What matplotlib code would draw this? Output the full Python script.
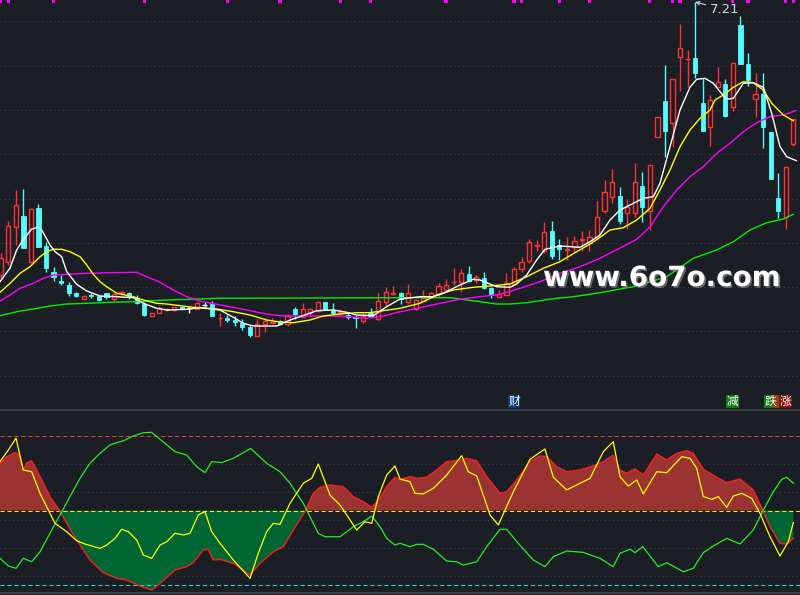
import numpy as np
import matplotlib
matplotlib.use("Agg")
import matplotlib.pyplot as plt
import matplotlib.patheffects as pe
from matplotlib.patches import Rectangle

# ---- daily candles (price) ----
opens = [4.48, 4.61, 4.963, 5.07, 4.61, 5.15, 4.77, 4.51, 4.42, 4.38,
         4.30, 4.243, 4.28, 4.27, 4.30, 4.24, 4.297, 4.30, 4.255, 4.19,
         4.073, 4.103, 4.135, 4.13, 4.16, 4.147, 4.143, 4.177, 4.19, 4.05,
         4.05, 4.03, 4.003, 3.957, 3.873, 3.987, 3.997, 4.02, 3.987, 4.14,
         4.063, 4.097, 4.123, 4.207, 4.13, 4.103, 4.077, 4.057, 4.023, 4.097,
         4.037, 4.213, 4.287, 4.303, 4.207, 4.137, 4.223, 4.257, 4.29, 4.33,
         4.407, 4.41, 4.487, 4.43, 4.447, 4.347, 4.257, 4.277, 4.39, 4.537,
         4.62, 4.773, 4.723, 4.92, 4.777, 4.73, 4.757, 4.83, 4.803, 4.86,
         5.123, 5.257, 5.27, 5.097, 5.097, 5.37, 5.117, 5.863, 6.22, 6.003,
         6.663, 6.637, 6.653, 6.197, 5.963, 6.357, 6.39, 6.157, 6.98, 6.59,
         6.237, 6.287, 5.907, 5.253, 5.063, 5.787]
closes = [4.65, 4.97, 5.18, 4.75, 5.14, 4.76, 4.55, 4.46, 4.40, 4.30,
          4.27, 4.273, 4.27, 4.23, 4.26, 4.29, 4.307, 4.263, 4.20, 4.08,
          4.097, 4.15, 4.14, 4.157, 4.137, 4.147, 4.197, 4.177, 4.073, 4.055,
          4.03, 4.013, 3.963, 3.88, 3.99, 4.02, 4.013, 3.99, 4.073, 4.09,
          4.137, 4.137, 4.207, 4.13, 4.097, 4.11, 4.057, 4.047, 4.073, 4.07,
          4.22, 4.307, 4.297, 4.237, 4.297, 4.23, 4.247, 4.297, 4.37, 4.377,
          4.413, 4.497, 4.42, 4.46, 4.347, 4.28, 4.29, 4.403, 4.537, 4.613,
          4.807, 4.78, 4.91, 4.673, 4.737, 4.737, 4.817, 4.837, 4.857, 5.065,
          5.313, 5.413, 5.023, 5.157, 5.413, 5.157, 5.58, 6.057, 5.923, 6.437,
          6.747, 6.643, 6.497, 5.923, 6.23, 6.41, 6.07, 6.597, 6.587, 6.43,
          6.287, 5.963, 5.44, 5.123, 5.557, 6.037]
highs = [4.70, 5.02, 5.33, 5.34, 5.15, 5.19, 4.81, 4.56, 4.48, 4.41,
         4.31, 4.28, 4.30, 4.275, 4.305, 4.303, 4.32, 4.31, 4.28, 4.21,
         4.10, 4.17, 4.15, 4.163, 4.17, 4.17, 4.21, 4.21, 4.217, 4.097,
         4.08, 4.07, 4.037, 3.98, 4.037, 4.047, 4.047, 4.03, 4.09, 4.163,
         4.197, 4.147, 4.223, 4.21, 4.197, 4.137, 4.097, 4.08, 4.097, 4.147,
         4.297, 4.363, 4.37, 4.31, 4.39, 4.24, 4.33, 4.313, 4.397, 4.437,
         4.553, 4.54, 4.57, 4.48, 4.51, 4.363, 4.33, 4.497, 4.557, 4.657,
         4.837, 4.83, 5.01, 5.02, 4.84, 4.857, 4.87, 4.92, 4.93, 5.22,
         5.43, 5.537, 5.357, 5.237, 5.597, 5.513, 5.58, 6.06, 6.58, 6.44,
         6.99, 6.73, 7.21, 6.453, 6.28, 6.557, 6.44, 6.597, 7.073, 6.703,
         6.503, 6.503, 5.91, 5.503, 5.557, 6.037]
lows = [4.43, 4.58, 4.78, 4.75, 4.60, 4.76, 4.51, 4.42, 4.38, 4.27,
        4.26, 4.24, 4.25, 4.22, 4.24, 4.223, 4.28, 4.243, 4.19, 4.07,
        4.07, 4.097, 4.12, 4.117, 4.13, 4.103, 4.137, 4.157, 4.07, 3.973,
        4.013, 3.97, 3.93, 3.863, 3.873, 3.913, 3.997, 3.98, 3.973, 4.04,
        4.063, 4.08, 4.107, 4.13, 4.087, 4.08, 4.037, 3.953, 3.997, 4.063,
        4.03, 4.163, 4.28, 4.19, 4.197, 4.13, 4.22, 4.247, 4.263, 4.313,
        4.38, 4.313, 4.413, 4.397, 4.34, 4.247, 4.257, 4.277, 4.38, 4.513,
        4.597, 4.723, 4.703, 4.64, 4.63, 4.63, 4.713, 4.723, 4.723, 4.83,
        5.097, 5.197, 4.99, 4.937, 5.063, 5.013, 4.93, 5.86, 5.663, 5.763,
        6.323, 6.363, 6.447, 5.923, 5.77, 6.357, 6.057, 6.123, 6.587, 6.37,
        6.057, 5.747, 5.44, 5.047, 4.937, 5.77]

# ---- moving averages (candle index, price) ----
ma5_x = [-0.1, 1.23, 2.11, 2.95, 4.1, 4.97, 5.43, 6.52, 7.19, 8.07, 8.74, 10.06, 11.39,
         13.15, 15.36, 17.56, 18.89, 20.66, 21.99, 24.64, 26.4, 29.05, 30.81, 32.13,
         33.46, 36.56, 38.32, 39.65, 41.86, 44.06, 45.83, 47.16, 49.36, 51.13, 52.9,
         55.54, 57.31, 58.63, 60.84, 62.61, 63.49, 65.7, 67.47, 68.35, 69.68, 71.0,
         72.1, 74.09, 76.74, 78.07, 79.39, 80.72, 82.04, 83.37, 85.13, 86.46, 87.34,
         88.67, 89.99, 91.31, 92.2, 93.3, 94.41, 95.29, 96.18, 97.06, 98.38, 99.7,
         101.03, 102.14, 103.24, 104.13, 105.4]
ma5_v = [4.413, 4.55, 4.73, 4.83, 4.94, 4.957, 4.93, 4.78, 4.713, 4.663, 4.513, 4.387, 4.32,
         4.27, 4.263, 4.253, 4.197, 4.147, 4.13, 4.137, 4.153, 4.13, 4.057, 3.997,
         3.97, 3.97, 4.03, 4.063, 4.123, 4.13, 4.107, 4.08, 4.073, 4.163, 4.24,
         4.263, 4.263, 4.297, 4.38, 4.437, 4.43, 4.363, 4.357, 4.39, 4.48, 4.63,
         4.737, 4.77, 4.757, 4.813, 4.88, 5.03, 5.13, 5.18, 5.247, 5.263, 5.397,
         5.763, 6.13, 6.357, 6.437, 6.447, 6.397, 6.313, 6.237, 6.247, 6.397, 6.403,
         6.357, 6.097, 5.763, 5.663, 5.623]
ma10_x = [-0.1, 1.23, 2.55, 3.88, 5.2, 6.09, 6.96, 8.07, 9.17, 10.5, 11.39, 12.26, 13.15,
          14.04, 15.36, 17.56, 18.89, 20.66, 21.99, 23.75, 25.51, 26.4, 28.61, 30.81,
          33.02, 35.23, 37.0, 38.76, 40.97, 42.73, 44.95, 47.16, 48.92, 50.68, 52.9,
          55.54, 57.75, 59.96, 62.61, 64.82, 67.47, 69.68, 71.88, 74.09, 76.3, 78.07,
          79.39, 80.72, 82.48, 84.25, 86.02, 87.34, 88.67, 89.99, 91.31, 92.64, 93.97,
          94.63, 95.73, 97.06, 98.38, 99.7, 101.03, 102.14, 103.68, 105.0]
ma10_v = [4.307, 4.397, 4.497, 4.563, 4.663, 4.713, 4.737, 4.737, 4.713, 4.663, 4.58, 4.487,
          4.413, 4.363, 4.297, 4.263, 4.23, 4.197, 4.19, 4.173, 4.157, 4.153, 4.14, 4.113,
          4.08, 4.03, 4.01, 4.003, 4.03, 4.07, 4.09, 4.103, 4.103, 4.123, 4.147,
          4.197, 4.28, 4.33, 4.357, 4.37, 4.39, 4.463, 4.547, 4.613, 4.713, 4.79,
          4.857, 4.93, 4.953, 5.03, 5.147, 5.33, 5.53, 5.763, 5.93, 6.047, 6.13,
          6.23, 6.28, 6.357, 6.413, 6.403, 6.33, 6.197, 6.08, 6.023]
ma20_x = [-0.1, 1.23, 2.55, 4.31, 5.64, 6.96, 8.74, 11.39, 14.47, 18.01, 19.34, 21.1,
          22.86, 24.64, 26.4, 28.61, 30.81, 33.02, 35.23, 37.0, 39.65, 44.06, 46.27,
          48.48, 50.68, 52.9, 55.54, 58.19, 60.84, 63.49, 66.14, 68.79, 71.44, 74.09,
          76.74, 79.39, 81.98, 84.25, 86.02, 87.78, 89.55, 91.31, 93.08, 94.85, 96.62,
          98.38, 100.15, 101.92, 103.68, 104.57, 105.3]
ma20_v = [4.22, 4.28, 4.347, 4.397, 4.447, 4.48, 4.487, 4.497, 4.503, 4.507, 4.463, 4.407,
          4.33, 4.263, 4.22, 4.187, 4.157, 4.123, 4.09, 4.073, 4.07, 4.07, 4.063,
          4.047, 4.07, 4.113, 4.153, 4.197, 4.237, 4.263, 4.287, 4.347, 4.413, 4.497,
          4.563, 4.647, 4.747, 4.837, 4.963, 5.163, 5.33, 5.463, 5.563, 5.697, 5.797,
          5.913, 6.003, 6.063, 6.08, 6.103, 6.123]
ma60_x = [-0.1, 2.11, 4.31, 6.52, 8.74, 11.39, 14.47, 17.56, 21.99, 26.4, 28.61, 52.9,
          59.52, 61.73, 63.49, 65.7, 67.47, 69.68, 71.44, 73.66, 75.86, 78.07, 79.39,
          83.81, 88.23, 91.75, 94.85, 97.06, 99.27, 101.48, 103.68, 105.0]
ma60_v = [4.073, 4.113, 4.14, 4.17, 4.19, 4.197, 4.207, 4.213, 4.23, 4.24, 4.247, 4.253,
          4.253, 4.23, 4.213, 4.19, 4.19, 4.203, 4.223, 4.247, 4.263, 4.287, 4.303,
          4.363, 4.463, 4.647, 4.73, 4.813, 4.93, 5.003, 5.04, 5.087]

# ---- lower oscillator (0..100, mid 50) ----
osc_x = [-0.1, 0.79, 1.89, 2.33, 2.99, 3.44, 4.1, 4.76, 5.64, 6.52, 7.85, 8.74, 10.06,
         11.82, 13.59, 15.36, 16.69, 18.45, 20.0, 21.1, 23.09, 24.64, 25.51, 26.84,
         27.5, 28.16, 29.05, 30.81, 33.02, 34.35, 36.11, 37.43, 38.76, 40.31, 41.41,
         42.3, 43.62, 45.38, 46.71, 48.03, 49.15, 50.02, 51.13, 52.23, 52.9, 54.22,
         55.11, 56.43, 57.76, 59.08, 60.84, 61.73, 63.06, 64.38, 66.14, 67.03, 68.36,
         70.12, 71.44, 72.33, 73.66, 74.98, 76.74, 78.5, 79.83, 81.15, 82.04, 82.93,
         84.03, 85.13, 86.91, 88.23, 89.56, 90.88, 91.75, 93.08, 94.85, 96.18, 97.94,
         99.7, 101.03, 101.92, 103.24, 104.13, 105.0]
osc_v = [81.7, 86.1, 88.8, 87.9, 77.2, 82.1, 83.2, 77.2, 68.3, 59.3, 49.5, 41.4, 30.2,
         16.8, 8.3, 4.5, 3.4, -0.7, -3.4, 1.1, 10.1, 12.3, 15.0, 23.5, 24.0, 16.8,
         17.2, 14.6, 6.7, 14.6, 22.3, 25.7, 36.9, 49.5, 61.5, 65.6, 67.1, 66.0, 59.3,
         55.9, 52.1, 57.0, 66.0, 72.3, 70.9, 72.7, 71.6, 72.3, 77.2, 82.8, 83.9, 85.0,
         83.4, 72.7, 61.5, 62.6, 70.5, 82.8, 86.6, 86.1, 79.4, 76.0, 77.2, 79.9, 82.8,
         87.2, 77.2, 75.0, 77.9, 73.8, 87.9, 83.9, 88.4, 90.1, 88.4, 77.7, 72.3, 68.7,
         71.1, 63.8, 49.5, 39.1, 28.0, 27.5, 31.3]
sig_x = [-0.1, 1.0, 2.02, 2.99, 4.1, 5.2, 6.52, 7.19, 8.74, 10.06, 11.16, 13.15, 14.04,
         15.14, 16.02, 16.9, 18.01, 18.89, 20.0, 21.1, 21.99, 23.09, 24.19, 25.07,
         26.17, 27.06, 27.95, 29.05, 30.81, 33.02, 34.12, 35.23, 36.11, 37.0, 38.32,
         40.08, 41.2, 42.07, 43.62, 44.95, 47.16, 48.26, 49.15, 50.02, 51.13, 52.23,
         52.9, 54.22, 54.88, 55.98, 57.31, 59.08, 61.07, 61.94, 63.06, 64.82, 65.92,
         67.91, 70.12, 72.1, 73.21, 74.98, 78.07, 79.83, 81.15, 82.04, 83.14, 84.25,
         85.13, 86.91, 88.23, 90.22, 91.32, 92.2, 93.08, 94.19, 95.07, 96.18, 97.05,
         98.16, 99.49, 100.59, 101.92, 103.24, 104.34, 105.0]
sig_v = [82.8, 90.6, 98.5, 77.2, 76.0, 61.5, 48.1, 41.4, 35.8, 29.7, 27.5, 24.6, 26.8,
         31.3, 37.4, 35.8, 30.2, 20.1, 17.9, 26.8, 29.1, 34.7, 33.6, 34.7, 47.0, 49.2,
         35.8, 28.0, 16.8, 4.5, 21.3, 35.8, 41.4, 40.7, 54.8, 68.3, 71.6, 81.2, 60.4,
         53.7, 36.9, 42.5, 41.4, 59.3, 73.8, 79.9, 71.1, 69.3, 61.5, 61.1, 64.9, 73.8,
         86.8, 76.0, 73.2, 47.0, 40.3, 62.6, 84.4, 91.3, 72.3, 63.8, 71.6, 89.5, 96.2,
         72.7, 66.4, 70.5, 61.1, 76.0, 75.4, 86.1, 85.0, 78.3, 59.3, 57.5, 59.3, 52.1,
         59.7, 61.5, 58.2, 48.1, 32.4, 19.5, 29.1, 41.8]
trd_x = [-0.1, 1.0, 2.02, 2.99, 4.1, 5.2, 6.52, 7.85, 9.17, 10.5, 11.82, 13.15, 14.47,
         16.24, 17.56, 18.89, 20.0, 21.1, 23.09, 24.64, 25.96, 27.06, 27.95, 29.27,
         30.81, 33.11, 35.23, 37.0, 38.32, 40.08, 42.07, 42.96, 44.95, 46.71, 48.03,
         49.15, 50.25, 51.13, 52.23, 52.9, 54.22, 55.11, 55.98, 57.31, 59.08, 60.41,
         61.28, 63.06, 64.38, 66.14, 67.03, 68.36, 70.56, 72.1, 73.21, 74.98, 77.18,
         79.39, 81.15, 82.04, 83.37, 84.03, 85.05, 87.12, 88.23, 90.43, 91.75, 93.08,
         94.41, 96.18, 97.94, 99.7, 101.03, 102.35, 103.46, 104.13, 105.0]
trd_v = [17.9, 12.8, 11.2, 17.9, 15.6, 22.3, 34.7, 47.0, 59.3, 71.6, 81.7, 88.4, 94.0,
         96.8, 100.0, 102.2, 102.5, 97.8, 89.5, 87.2, 79.4, 75.4, 82.8, 82.1, 85.0,
         91.7, 81.7, 76.0, 68.3, 54.8, 34.7, 32.4, 32.4, 39.1, 42.5, 46.3, 39.1, 31.3,
         26.8, 28.0, 25.7, 27.3, 27.3, 24.0, 16.1, 15.6, 13.4, 15.6, 25.7, 37.4, 37.4,
         29.1, 16.8, 12.3, 19.0, 22.8, 21.9, 17.9, 12.3, 21.3, 24.0, 21.7, 25.7, 12.3,
         15.0, 8.9, 11.2, 21.7, 26.2, 31.3, 27.5, 36.9, 50.3, 62.6, 70.9, 72.3, 68.3]
osc_levels = [100, 50, 0]

# event markers on top edge and tag labels under the candles
mark_idx = [0, 1, 7, 19, 30, 37, 45, 49, 59, 68, 69, 74, 78, 86, 89, 90, 97, 99, 104, 105]
tag_idx = [68, 97, 102, 103, 104]
tag_text = ['财', '减', '跌', '', '涨']
watermark = 'www.6o7o.com'

BG = '#1c1e26'
GRID = '#3e414c'
RED = '#ff3232'
CYAN = '#54fcfc'
tag_colors = ['#0d3c74', '#0f7a16', '#0f7a16', '#8a4b12', '#7e0c0c']

plt.rcParams['font.family'] = ['DejaVu Sans']

fig = plt.figure(figsize=(8, 5.95), dpi=100, facecolor=BG)
ax = fig.add_axes([0, 185 / 595, 1, 410 / 595], facecolor=BG)
ax2 = fig.add_axes([0, 0, 1, 185 / 595], facecolor=BG, sharex=ax)

for a in (ax, ax2):
    a.set_xticks([])
    a.set_yticks([])
    for s in a.spines.values():
        s.set_visible(False)

ax.set_xlim(-0.1, 105.89)
ax.set_ylim(3.13, 7.23)

# dotted price grid
for g in 7.017 - 0.443 * np.arange(9):
    ax.axhline(g, color=GRID, lw=0.75, ls=(0, (1, 3)), zorder=0)

# candles
o = np.array(opens); c = np.array(closes); h = np.array(highs); l = np.array(lows)
x = np.arange(len(o))
top = np.maximum(o, c); bot = np.minimum(o, c)
up = c > o; dn = c < o; flat = c == o
W = 0.56
ax.vlines(x[up], top[up], h[up], color=RED, lw=1, zorder=2)
ax.vlines(x[up], l[up], bot[up], color=RED, lw=1, zorder=2)
ax.bar(x[up], top[up] - bot[up], bottom=bot[up], width=W, facecolor='none',
       edgecolor=RED, linewidth=1, zorder=2)
ax.vlines(x[dn], l[dn], h[dn], color=CYAN, lw=1, zorder=2)
ax.bar(x[dn], top[dn] - bot[dn], bottom=bot[dn], width=W, facecolor=CYAN,
       edgecolor=CYAN, linewidth=0.6, zorder=2)
ax.vlines(x[flat], l[flat], h[flat], color='white', lw=1, zorder=2)
ax.hlines(c[flat], x[flat] - W / 2, x[flat] + W / 2, color='white', lw=1, zorder=2)

# moving averages
ax.plot(ma60_x, ma60_v, color='#00ee00', lw=1, zorder=3)
ax.plot(ma20_x, ma20_v, color='#ff00ff', lw=1, zorder=3)
ax.plot(ma10_x, ma10_v, color='#ffff00', lw=1, zorder=3)
ax.plot(ma5_x, ma5_v, color='white', lw=1, zorder=3)

# markers on top edge
ax.bar(mark_idx, 0.025, bottom=7.205, width=0.42, color='#ff00ff', zorder=4)

# highest price annotation
imax = int(np.argmax(h))
ax.annotate('%.2f' % h[imax], xy=(imax, h[imax]), xytext=(imax + 1.95, 7.097),
            color='#cbd8e8', fontsize=9.5, ha='left', va='baseline',
            arrowprops=dict(arrowstyle='->', color='#cbd8e8', lw=0.8,
                            shrinkA=1, shrinkB=0, mutation_scale=6), zorder=6)

# tags: coloured boxes first (they overlap like the original), then the glyphs
TAG_W, TAG_B, TAG_H = 1.7, 3.15, 0.127
for k, (i, col) in enumerate(zip(tag_idx, tag_colors)):
    ax.add_patch(Rectangle((i - TAG_W / 2, TAG_B), TAG_W, TAG_H, fc=col, ec='none',
                           zorder=6 + 0.01 * k))
for i, t in zip(tag_idx, tag_text):
    if t:
        ax.text(i, TAG_B + TAG_H / 2, t, ha='center', va='center', fontsize=8.5,
                color='white', family=['Noto Sans CJK SC', 'DejaVu Sans'], zorder=7)

# watermark
ax.text(543 / 800, (410 - 286) / 410, watermark, transform=ax.transAxes,
        ha='left', va='baseline', fontsize=20, fontweight='bold', color='white',
        zorder=8, path_effects=[pe.withSimplePatchShadow(offset=(1.2, -1.2),
                                                         shadow_rgbFace='#888888', alpha=0.7)])

# ---- lower panel ----
ax2.set_ylim(-6.71, 117.45)
ax2.spines['top'].set_visible(True)
ax2.spines['top'].set_color('#41454f')
ax2.spines['top'].set_linewidth(1.2)
for g in 100 - 18.8 * np.arange(1, 6):
    ax2.axhline(g, color=GRID, lw=0.75, ls=(0, (1, 3)), zorder=0)
ax2.axhline(-5.6, color='#41454f', lw=1.2, zorder=0)

ov = np.array(osc_v)
ax2.fill_between(osc_x, ov, osc_levels[1], where=ov >= osc_levels[1], interpolate=True,
                 color='#9c3333', lw=0, zorder=1)
ax2.fill_between(osc_x, ov, osc_levels[1], where=ov <= osc_levels[1], interpolate=True,
                 color='#006633', lw=0, zorder=1)
ax2.axhline(osc_levels[0], color='#e83a3a', lw=0.75, ls=(0, (4, 2.7)), zorder=2)
ax2.axhline(osc_levels[1], color='#eeee22', lw=0.75, ls=(0, (4, 2.7)), zorder=2)
ax2.axhline(osc_levels[2], color='#33d6d6', lw=0.75, ls=(0, (4, 2.7)), zorder=2)
ax2.plot(osc_x, osc_v, color='#ff1e1e', lw=1, zorder=3)
ax2.plot(trd_x, trd_v, color='#22ee22', lw=0.9, zorder=3)
ax2.plot(sig_x, sig_v, color='#ffff00', lw=0.9, zorder=4)

fig.savefig('out.png', dpi=100, facecolor=BG)
